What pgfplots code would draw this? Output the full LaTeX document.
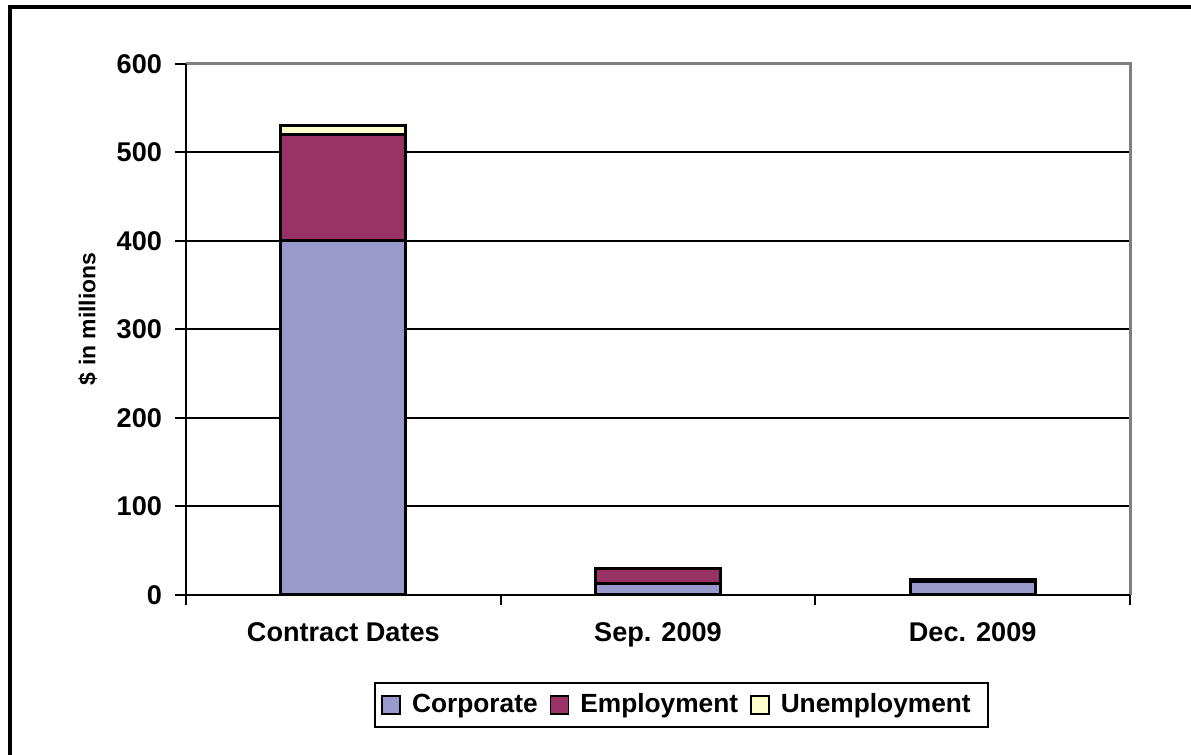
\documentclass[border=0pt]{standalone}
\usepackage{pgfplots}
\pgfplotsset{compat=1.18}
\usepackage{fontspec}
\setmainfont{Liberation Sans}

\definecolor{corp}{HTML}{9999CC}
\definecolor{empl}{HTML}{993366}
\definecolor{unem}{HTML}{FFFFCC}

\begin{document}
\begin{tikzpicture}
\useasboundingbox (0bp,0bp) rectangle (595.5bp,377.5bp);
\draw[line width=2bp] (4.75bp,-20bp) rectangle (620bp,373.75bp);
\begin{axis}[
	at={(93bp,80bp)}, anchor=south west,
	scale only axis, width=472bp, height=265.5bp,
	ybar stacked, bar width=62.5bp,
	xmin=-0.5, xmax=2.5, ymin=0, ymax=600,
	xtick={0,1,2},
	xticklabels={Contract Dates, Sep. 2009, Dec. 2009},
	minor xtick={-0.5,0.5,1.5,2.5},
	ytick={0,100,...,600},
	tick pos=left,
	tick align=outside,
	major tick length=5.5bp, minor tick length=5bp,
	major x tick style={draw=none},
	tick style={black, line width=1bp},
	ymajorgrids, grid style={black, line width=1bp},
	axis line style={draw=none},
	/pgf/number format/assume math mode=true,
	ticklabel style={font=\bfseries\fontsize{13.6}{16}\selectfont},
	yticklabel style={xshift=-3bp},
	xticklabel style={yshift=-5bp},
	ylabel={\$ in millions},
	every axis y label/.style={at={(axis description cs:-0.104,0.52)}, rotate=90, anchor=center,
		font=\bfseries\fontsize{11.5}{13}\selectfont},
	legend style={at={(0.525,-0.207)}, anchor=center, draw=black, line width=1bp,
		inner xsep=3bp, inner ysep=3bp,
		nodes={inner xsep=5.5bp, inner ysep=2.5bp},
		font=\bfseries\fontsize{13.2}{15}\selectfont,
		/tikz/every even column/.append style={column sep=0.5bp}},
	legend columns=-1,
	legend image code/.code={\draw[#1,line width=0.8bp] (0bp,-4.5bp) rectangle (9bp,4.5bp);},
	after end axis/.code={
		\draw[gray, line width=1.5bp] (rel axis cs:0,1) -- (rel axis cs:1,1) -- (rel axis cs:1,0);
		\draw[black, line width=1.25bp] (rel axis cs:0,1) -- (rel axis cs:0,0) -- (rel axis cs:1,0);
	},
]
\addplot[fill=corp, draw=black, line width=1.5bp] coordinates {(0,400) (1,12.5) (2,15)};
\addplot[fill=empl, draw=black, line width=1.5bp] coordinates {(0,120) (1,18) (2,3)};
\addplot[fill=unem, draw=black, line width=1.5bp] coordinates {(0,10) (1,0) (2,0)};
\legend{Corporate,Employment,Unemployment}
\end{axis}
\end{tikzpicture}
\end{document}
